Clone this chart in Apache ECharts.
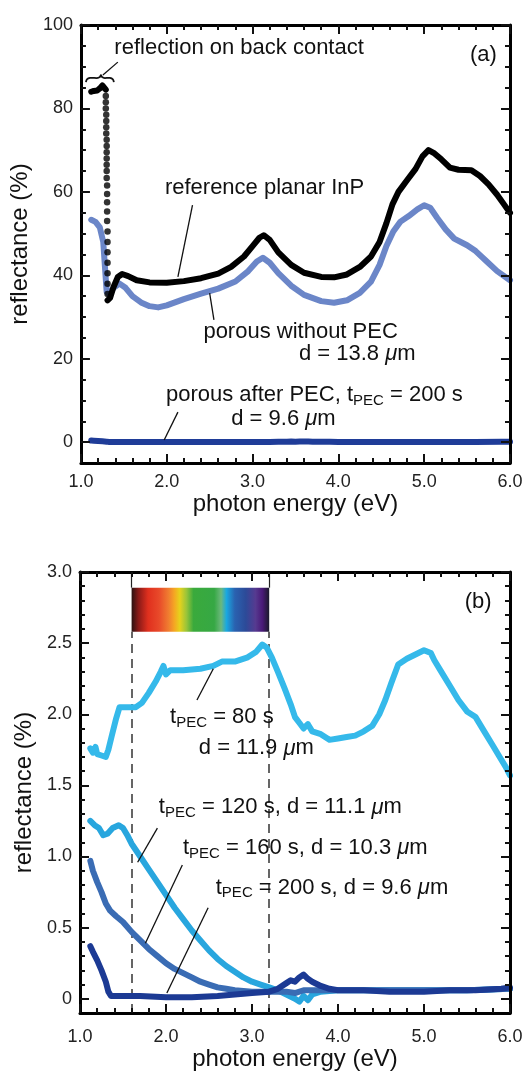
<!DOCTYPE html>
<html><head><meta charset="utf-8">
<script src="https://cdn.jsdelivr.net/npm/echarts@6/dist/echarts.min.js"></script>
<style>html,body{margin:0;padding:0;background:#fff}#c{width:531px;height:1072px}</style>
</head><body><div id="c"></div>
<script>
const FONT = '"Liberation Sans", Arial, Helvetica, sans-serif';

// ---- tick values / labels ----
const xMajor = [1, 2, 3, 4, 5, 6];
const xMinor = [1.2,1.4,1.6,1.8,2.2,2.4,2.6,2.8,3.2,3.4,3.6,3.8,4.2,4.4,4.6,4.8,5.2,5.4,5.6,5.8];
const yMajorA = [0, 20, 40, 60, 80, 100];
const yMinorA = [5,10,15,25,30,35,45,50,55,65,70,75,85,90,95];
const yMajorB = [0, 0.5, 1, 1.5, 2, 2.5, 3];
const yMinorB = [0.1,0.2,0.3,0.4,0.6,0.7,0.8,0.9,1.1,1.2,1.3,1.4,1.6,1.7,1.8,1.9,2.1,2.2,2.3,2.4,2.6,2.7,2.8,2.9];

// ---- panel (a) data ----
const refPlanarTop = [[1.12,84.0],[1.15,84.2],[1.19,84.3],[1.22,84.8],[1.25,85.5],[1.27,85.6],[1.29,84.5]];
const refPlanarDrop = [[1.29,83],[1.29,81.5],[1.29,80],[1.295,78.5],[1.295,77],[1.295,75.5],[1.295,74],[1.3,72.5],[1.3,71],[1.3,69.5],[1.3,68],[1.3,66.5],[1.3,65],[1.3,63.3],[1.305,61.5],[1.305,59.5],[1.305,57.5],[1.305,55.3],[1.305,53],[1.31,50.5],[1.31,48],[1.31,45.5],[1.31,43],[1.31,40.5],[1.31,38],[1.31,35.5]];
const refPlanar = [[1.31,34.0],[1.34,34.6],[1.38,37.2],[1.43,39.6],[1.48,40.3],[1.55,39.8],[1.65,38.8],[1.8,38.3],[2.0,38.2],[2.2,38.6],[2.4,39.3],[2.6,40.4],[2.75,42],[2.9,44.5],[3.0,47],[3.08,49],[3.13,49.6],[3.2,48.5],[3.3,45.5],[3.45,42.5],[3.6,40.6],[3.8,39.6],[3.95,39.5],[4.1,40.2],[4.25,42],[4.38,44.5],[4.48,48],[4.56,52.5],[4.63,57],[4.7,60],[4.8,62.8],[4.9,65.5],[4.98,68.5],[5.05,70],[5.12,69.2],[5.2,67.8],[5.3,65.8],[5.4,65.3],[5.55,65.2],[5.65,63.8],[5.75,61.8],[5.85,59.3],[5.93,57],[6.0,55]];
const porousNoPEC = [[1.12,53.3],[1.17,52.8],[1.22,51.5],[1.26,48],[1.28,42],[1.3,36],[1.33,35.5],[1.38,37],[1.45,38],[1.52,37],[1.6,35],[1.7,33.5],[1.8,32.6],[1.9,32.3],[2.0,32.8],[2.2,34.3],[2.4,35.6],[2.6,36.8],[2.8,38.5],[2.95,41],[3.05,43.3],[3.12,44.2],[3.2,43],[3.3,40.5],[3.45,37.5],[3.6,35.3],[3.8,33.8],[3.95,33.4],[4.1,34],[4.25,35.8],[4.38,38.5],[4.48,42.5],[4.56,47],[4.64,50.5],[4.72,52.8],[4.82,54.2],[4.92,55.8],[5.0,56.8],[5.07,56.2],[5.15,53.8],[5.25,51],[5.35,48.8],[5.5,47.2],[5.6,45.8],[5.72,43.5],[5.85,41],[6.0,38.8]];

// ---- panel (b) data ----
const pec80 = [[1.12,1.76],[1.15,1.73],[1.18,1.77],[1.2,1.72],[1.25,1.71],[1.3,1.7],[1.33,1.75],[1.37,1.85],[1.42,1.97],[1.46,2.05],[1.55,2.05],[1.65,2.05],[1.72,2.08],[1.8,2.15],[1.88,2.23],[1.94,2.3],[1.97,2.34],[2.0,2.28],[2.05,2.31],[2.2,2.31],[2.4,2.32],[2.55,2.34],[2.65,2.37],[2.8,2.37],[2.95,2.4],[3.05,2.44],[3.12,2.49],[3.17,2.47],[3.23,2.4],[3.3,2.3],[3.38,2.18],[3.45,2.07],[3.5,1.98],[3.55,1.94],[3.6,1.9],[3.65,1.93],[3.7,1.88],[3.8,1.86],[3.9,1.82],[4.0,1.83],[4.1,1.84],[4.2,1.85],[4.3,1.88],[4.4,1.92],[4.48,2.0],[4.55,2.1],[4.62,2.22],[4.7,2.35],[4.8,2.39],[4.9,2.42],[5.0,2.45],[5.08,2.43],[5.12,2.38],[5.2,2.3],[5.3,2.2],[5.4,2.1],[5.5,2.02],[5.6,1.98],[5.7,1.88],[5.8,1.78],[5.88,1.7],[5.95,1.63],[6.0,1.57]];
const pec120 = [[1.12,1.25],[1.17,1.22],[1.22,1.2],[1.27,1.15],[1.32,1.16],[1.38,1.2],[1.45,1.22],[1.5,1.2],[1.55,1.15],[1.6,1.09],[1.7,1.0],[1.8,0.91],[1.9,0.82],[2.0,0.73],[2.1,0.64],[2.2,0.56],[2.3,0.48],[2.4,0.41],[2.5,0.34],[2.6,0.28],[2.7,0.23],[2.8,0.19],[2.9,0.15],[3.0,0.12],[3.1,0.1],[3.2,0.08],[3.3,0.06],[3.4,0.03],[3.5,0.0],[3.55,-0.02],[3.6,0.02],[3.65,-0.01],[3.7,0.03],[3.8,0.05],[4.0,0.06],[4.5,0.06],[5.0,0.06],[5.5,0.06],[6.0,0.07]];
const pec160 = [[1.12,0.97],[1.15,0.9],[1.2,0.82],[1.25,0.75],[1.3,0.67],[1.35,0.62],[1.42,0.58],[1.5,0.54],[1.6,0.47],[1.7,0.41],[1.8,0.35],[1.9,0.3],[2.0,0.25],[2.1,0.21],[2.2,0.18],[2.3,0.15],[2.4,0.12],[2.5,0.1],[2.6,0.08],[2.7,0.07],[2.8,0.06],[3.0,0.05],[3.2,0.05],[3.4,0.05],[3.5,0.04],[3.6,0.06],[3.8,0.06],[4.0,0.06],[4.5,0.06],[5.0,0.06],[5.5,0.06],[6.0,0.07]];
const pec200 = [[1.12,0.37],[1.15,0.33],[1.2,0.27],[1.25,0.2],[1.3,0.12],[1.33,0.05],[1.36,0.02],[1.5,0.02],[1.7,0.02],[2.0,0.01],[2.3,0.01],[2.6,0.02],[2.8,0.03],[3.0,0.04],[3.2,0.05],[3.3,0.07],[3.4,0.11],[3.45,0.13],[3.5,0.12],[3.55,0.15],[3.6,0.17],[3.65,0.14],[3.7,0.12],[3.8,0.09],[3.9,0.07],[4.0,0.06],[4.3,0.06],[4.6,0.05],[5.0,0.05],[5.3,0.06],[5.6,0.06],[5.9,0.07],[6.0,0.08]];

const visibleRange = [1.6, 3.2];
const spectrumBar = [2.58, 2.89];

const chart = echarts.init(document.getElementById('c'));

function xAxesFor(gi, labelMargin, nameGap) {
  const out = [];
  ['bottom', 'top'].forEach(pos => {
    out.push({type: 'value', min: 1, max: 6, gridIndex: gi, position: pos, z: 5,
      axisLine: {show: true, onZero: false, lineStyle: {color: '#000', width: 3}},
      axisTick: {show: true, inside: true, length: 9, customValues: xMajor.slice(), lineStyle: {color: '#111', width: 2}},
      axisLabel: pos === 'bottom'
        ? {show: true, customValues: xMajor.slice(), formatter: v => v.toFixed(1), margin: labelMargin, fontSize: 18, color: '#222', fontFamily: FONT}
        : {show: false},
      splitLine: {show: false},
      name: pos === 'bottom' ? 'photon energy (eV)' : '', nameLocation: 'middle', nameGap: nameGap,
      nameTextStyle: {fontSize: 24, color: '#111', fontFamily: FONT, verticalAlign: 'middle'}});
    out.push({type: 'value', min: 1, max: 6, gridIndex: gi, position: pos, z: 5,
      axisLine: {show: false, onZero: false},
      axisTick: {show: true, inside: true, length: 5, customValues: xMinor.slice(), lineStyle: {color: '#111', width: 2}},
      axisLabel: {show: false}, splitLine: {show: false}});
  });
  return out;
}
function yAxesFor(gi, ymin, ymax, major, minor, fmt) {
  const out = [];
  ['left', 'right'].forEach(pos => {
    out.push({type: 'value', min: ymin, max: ymax, gridIndex: gi, position: pos, z: 5,
      axisLine: {show: true, onZero: false, lineStyle: {color: '#000', width: 3}},
      axisTick: {show: true, inside: true, length: 9, customValues: major.slice(), lineStyle: {color: '#111', width: 2}},
      axisLabel: pos === 'left'
        ? {show: true, customValues: major.slice(), formatter: fmt, margin: 8, fontSize: 18, color: '#222', fontFamily: FONT}
        : {show: false},
      splitLine: {show: false},
      name: pos === 'left' ? 'reflectance (%)' : '', nameLocation: 'middle', nameGap: 55, nameRotate: 90,
      nameTextStyle: {fontSize: 24, color: '#111', fontFamily: FONT, verticalAlign: 'middle'}});
    out.push({type: 'value', min: ymin, max: ymax, gridIndex: gi, position: pos, z: 5,
      axisLine: {show: false, onZero: false},
      axisTick: {show: true, inside: true, length: 5, customValues: minor.slice(), lineStyle: {color: '#111', width: 2}},
      axisLabel: {show: false}, splitLine: {show: false}});
  });
  return out;
}

function lineSeries(axis, data, color, width, z) {
  return {type: 'line', xAxisIndex: axis, yAxisIndex: axis, data: data, symbol: 'none', showSymbol: false,
    lineStyle: {color: color, width: width, cap: 'round', join: 'round'}, itemStyle: {color: color}, z: z || 2, silent: true};
}

const spectrumGradient = new echarts.graphic.LinearGradient(0, 0, 1, 0, [
  {offset: 0.00, color: '#2a1212'}, {offset: 0.05, color: '#8a1a18'}, {offset: 0.12, color: '#e0301e'},
  {offset: 0.20, color: '#e84a2a'}, {offset: 0.27, color: '#f07e30'}, {offset: 0.31, color: '#f5a623'},
  {offset: 0.35, color: '#e6d21c'}, {offset: 0.40, color: '#98c43a'}, {offset: 0.45, color: '#3aaa3c'},
  {offset: 0.60, color: '#36a844'}, {offset: 0.65, color: '#6cb87c'}, {offset: 0.69, color: '#1aa8e0'},
  {offset: 0.75, color: '#2a62b0'}, {offset: 0.83, color: '#2c4a98'}, {offset: 0.90, color: '#563a90'},
  {offset: 0.95, color: '#4a1a78'}, {offset: 1.00, color: '#1a1a2a'}
]);

const A = 0, B = 4;
const pec80Series = lineSeries(B, pec80, '#35b9ea', 6, 2);
pec80Series.markArea = {silent: true, z: 1, itemStyle: {color: spectrumGradient, borderWidth: 0},
  data: [[{coord: [visibleRange[0], spectrumBar[0]]}, {coord: [visibleRange[1], spectrumBar[1]]}]]};
pec80Series.markLine = {silent: true, z: 1, symbol: ['none', 'none'], label: {show: false},
  lineStyle: {type: [9, 6], color: '#333', width: 1.5},
  data: [
    [{coord: [visibleRange[0], -0.1]}, {coord: [visibleRange[0], spectrumBar[0]]}],
    [{coord: [visibleRange[1], -0.1]}, {coord: [visibleRange[1], spectrumBar[0]]}],
    [{coord: [visibleRange[0], spectrumBar[1]], lineStyle: {type: 'solid', color: '#222', width: 1.2}}, {coord: [visibleRange[0], 3.0]}],
    [{coord: [visibleRange[1], spectrumBar[1]], lineStyle: {type: 'solid', color: '#222', width: 1.2}}, {coord: [visibleRange[1], 3.0]}]
  ]};

chart.setOption({
  animation: false,
  grid: [
    {left: 80, top: 25, width: 430, height: 438},
    {left: 80, top: 572, width: 430, height: 441}
  ],
  xAxis: [].concat(xAxesFor(0, 10, 41), xAxesFor(1, 15, 46)),
  yAxis: [].concat(
    yAxesFor(0, -5, 100, yMajorA, yMinorA, v => String(v)),
    yAxesFor(1, -0.1, 3.0, yMajorB, yMinorB, v => (v === 0 ? '0' : v.toFixed(1)))
  ),
  series: [
    lineSeries(A, porousNoPEC, '#6b86c8', 6),
    lineSeries(A, refPlanarTop, '#000', 6, 3),
    {type: 'scatter', xAxisIndex: A, yAxisIndex: A, data: refPlanarDrop, symbolSize: 6.5, itemStyle: {color: '#000'}, z: 3, silent: true},
    lineSeries(A, refPlanar, '#000', 6, 3),
    lineSeries(A, pec200, '#1f3c98', 6, 3),
    pec80Series,
    lineSeries(B, pec120, '#28a6de', 6, 3),
    lineSeries(B, pec160, '#3a6cb4', 6, 3),
    lineSeries(B, pec200, '#1c3a94', 6, 3)
  ]
});

function px(g, p) { const k = g === 0 ? A : B; return chart.convertToPixel({xAxisIndex: k, yAxisIndex: k}, p); }

// ---- annotations (positions in data coordinates) ----
const rich = {
  n: {fontSize: 22, lineHeight: 26, fontFamily: FONT, fill: '#111'},
  s: {fontSize: 15, lineHeight: 10, verticalAlign: 'bottom', fontFamily: FONT, fill: '#111'},
  i: {fontSize: 22, lineHeight: 26, fontStyle: 'italic', fontFamily: FONT, fill: '#111'}
};
const labels = [
  {g: 0, at: [2.843, 94.5], t: '{n|reflection on back contact}'},
  {g: 0, at: [5.69, 92.8], t: '{n|(a)}'},
  {g: 0, at: [3.14, 60.9], t: '{n|reference planar InP}'},
  {g: 0, at: [3.56, 26.4], t: '{n|porous without PEC}'},
  {g: 0, at: [4.22, 21.1], t: '{n|d = 13.8 }{i|μ}{n|m}'},
  {g: 0, at: [3.72, 11.3], t: '{n|porous after PEC, t}{s|PEC}{n| = 200 s}'},
  {g: 0, at: [3.36, 5.5], t: '{n|d = 9.6 }{i|μ}{n|m}'},
  {g: 1, at: [5.63, 2.79], t: '{n|(b)}'},
  {g: 1, at: [2.65, 1.98], t: '{n|t}{s|PEC}{n| = 80 s}'},
  {g: 1, at: [3.05, 1.76], t: '{n|d = 11.9 }{i|μ}{n|m}'},
  {g: 1, at: [3.33, 1.345], t: '{n|t}{s|PEC}{n| = 120 s, d = 11.1 }{i|μ}{n|m}'},
  {g: 1, at: [3.62, 1.06], t: '{n|t}{s|PEC}{n| = 160 s, d = 10.3 }{i|μ}{n|m}'},
  {g: 1, at: [3.93, 0.78], t: '{n|t}{s|PEC}{n| = 200 s, d = 9.6 }{i|μ}{n|m}'}
];
const leaders = [
  {g: 0, a: [1.256, 88.0], b: [1.43, 91.1]},
  {g: 0, a: [2.30, 56.8], b: [2.13, 39.6]},
  {g: 0, a: [2.55, 29.3], b: [2.50, 35.7]},
  {g: 0, a: [2.13, 7.2], b: [1.97, 0.5]},
  {g: 1, a: [2.55, 2.32], b: [2.36, 2.10]},
  {g: 1, a: [1.90, 1.20], b: [1.67, 0.96]},
  {g: 1, a: [2.19, 0.94], b: [1.76, 0.39]},
  {g: 1, a: [2.49, 0.64], b: [2.01, 0.04]}
];
const brace = {left: [1.058, 86.3], flat: 87.3, tip: [1.233, 88.0], right: [1.384, 86.3]};

const graphics = [];
labels.forEach(l => {
  const p = px(l.g, l.at);
  graphics.push({type: 'text', x: p[0], y: p[1], z: 10, silent: true,
    style: {text: l.t, rich: rich, align: 'center', verticalAlign: 'middle', fill: '#111', fontFamily: FONT, fontSize: 22}});
});
leaders.forEach(l => {
  const a = px(l.g, l.a), b = px(l.g, l.b);
  graphics.push({type: 'line', z: 10, silent: true, shape: {x1: a[0], y1: a[1], x2: b[0], y2: b[1]},
    style: {stroke: '#111', lineWidth: 1.3}});
});
(function () {
  const L = px(0, brace.left), T = px(0, brace.tip), R = px(0, brace.right);
  const fy = px(0, [brace.tip[0], brace.flat])[1];
  const pts = [L, [L[0] + 1, fy + 1.5], [L[0] + 4, fy], [T[0] - 3, fy], [T[0] - 1, fy - 1], T,
               [T[0] + 1, fy - 1], [T[0] + 3, fy], [R[0] - 4, fy], [R[0] - 1, fy + 1.5], R];
  graphics.push({type: 'polyline', z: 10, silent: true, shape: {points: pts, smooth: 0.3},
    style: {fill: null, stroke: '#111', lineWidth: 1.8}});
})();
chart.setOption({graphic: graphics});
</script>
</body></html>
